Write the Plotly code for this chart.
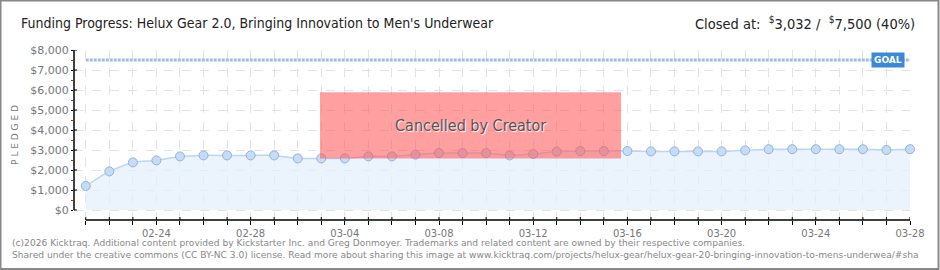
import plotly.graph_objects as go
import pandas as pd

# ---- data ----
dates = pd.date_range("2026-02-21", "2026-03-28", freq="D").strftime("%Y-%m-%d").tolist()
pledged = [1200, 1930, 2380, 2480, 2680, 2730, 2730, 2730, 2730, 2580,
           2580, 2580, 2680, 2680, 2770, 2850, 2850, 2850, 2730, 2800,
           2920, 2950, 2950, 2950, 2930, 2930, 2930, 2930, 2980, 3040,
           3040, 3040, 3040, 3040, 3000, 3040, 3032][:len(dates)]
goal = 7500
closed_at = 3032
pct = 40
label_every = 4
label_start = "2026-02-24"
title_text = "Funding Progress: Helux Gear 2.0, Bringing Innovation to Men's Underwear"
footer1 = ("(c)2026 Kicktraq. Additional content provided by Kickstarter Inc. and Greg Donmoyer. "
           "Trademarks and related content are owned by their respective companies.")
footer2 = ("Shared under the creative commons (CC BY-NC 3.0) license. Read more about sharing this image at "
           "www.kicktraq.com/projects/helux-gear/helux-gear-20-bringing-innovation-to-mens-underwea/#sha")
y_ticks = list(range(0, 8001, 1000))
y_minor = list(range(500, 8000, 1000))

# ---- figure ----
fig = go.Figure()

# goal line
fig.add_trace(go.Scatter(
    x=[dates[0], dates[-1]], y=[goal, goal], mode="lines",
    line=dict(color="#9dbde6", width=3, dash="3px,1px"),
    hoverinfo="skip", showlegend=False, cliponaxis=False))

# pledged area
fig.add_trace(go.Scatter(
    x=dates, y=pledged, mode="lines+markers",
    line=dict(color="#bcd6f2", width=1.5, shape="spline", smoothing=0.6),
    fill="tozeroy", fillcolor="rgba(228,239,251,0.75)",
    marker=dict(size=9, color="#c3dcf7", line=dict(color="#95b2d8", width=1)),
    showlegend=False, cliponaxis=False))

labels_start_idx = dates.index(label_start)
label_dates = dates[labels_start_idx::label_every]
label_text = [d[5:] for d in label_dates]

x_lo = (pd.Timestamp(dates[0]) - pd.Timedelta(hours=12)).strftime("%Y-%m-%d %H:%M")
x_hi = dates[-1]

fig.update_layout(
    width=940, height=270,
    margin=dict(l=74, r=30, t=50, b=50),
    paper_bgcolor="white", plot_bgcolor="white",
    showlegend=False,
    xaxis=dict(
        range=[x_lo, x_hi], tickmode="array", tickvals=label_dates, ticktext=label_text,
        showgrid=True, gridcolor="#e3e3e3", griddash="dash", gridwidth=1,
        showline=False, zeroline=False,
        ticks="outside", ticklen=4, tickcolor="black", tickwidth=1,
        minor=dict(tickmode="array", tickvals=dates, ticks="outside", ticklen=4,
                   tickcolor="black", showgrid=True, gridcolor="#e3e3e3", griddash="dash"),
        tickfont=dict(family="DejaVu Sans", size=10, color="#777"),
    ),
    yaxis=dict(
        range=[-500, 8000], tickmode="array", tickvals=y_ticks,
        ticktext=[f"${v:,}" for v in y_ticks],
        showgrid=True, gridcolor="#e3e3e3", griddash="dash", gridwidth=1,
        showline=False, zeroline=False,
        ticks="outside", ticklen=2, tickcolor="black", tickwidth=1,
        minor=dict(tickmode="array", tickvals=y_minor, ticks="outside", ticklen=2,
                   tickcolor="red", showgrid=False),
        tickfont=dict(family="DejaVu Sans", size=11, color="#777"),
        title=dict(text="P L E D G E D", font=dict(family="DejaVu Sans", size=9, color="#777"),
                   standoff=10),
    ),
)

shapes = []
# y axis line
shapes.append(dict(type="line", xref="paper", yref="y", x0=0, x1=0, y0=0, y1=8000,
                   line=dict(color="black", width=1.5)))
for v in y_ticks:
    shapes.append(dict(type="line", xref="paper", yref="y", x0=0, x1=3 / 836, y0=v, y1=v,
                       line=dict(color="black", width=1)))
# x axis line
shapes.append(dict(type="line", xref="x", yref="paper", x0=dates[0], x1=dates[-1], y0=0, y1=0,
                   line=dict(color="black", width=1.5)))
for d in dates:
    shapes.append(dict(type="line", xref="x", yref="paper", x0=d, x1=d, y0=0, y1=3 / 170,
                       line=dict(color="black", width=1)))
# cancelled box
shapes.append(dict(type="rect", xref="paper", yref="paper",
                   x0=(320 - 74) / 836, x1=(621 - 74) / 836,
                   y0=(220 - 158.5) / 170, y1=(220 - 92.3) / 170,
                   fillcolor="rgba(255,90,90,0.58)", line=dict(width=0), layer="above"))
# border
shapes.append(dict(type="rect", xref="paper", yref="paper",
                   x0=-74 / 836 + 0.5 / 836, x1=1 + 28.5 / 836,
                   y0=-49 / 170, y1=1 + 49.5 / 170,
                   line=dict(color="#888", width=2), fillcolor="rgba(0,0,0,0)"))
fig.update_layout(shapes=shapes)

hdr_font = "Liberation Sans Narrow, DejaVu Sans Condensed, sans-serif"
ann = []
ann.append(dict(text=title_text, xref="paper", yref="paper", x=-55 / 836, y=1 + 27 / 170,
                xanchor="left", yanchor="middle", showarrow=False,
                font=dict(family=hdr_font, size=14, color="#222")))
ann.append(dict(text=f"Closed at:  <sup>$</sup>{closed_at:,} /  <sup>$</sup>{goal:,} ({pct}%)",
                xref="paper", yref="paper", x=1 + 7 / 836, y=1 + 27 / 170,
                xanchor="right", yanchor="middle", showarrow=False,
                font=dict(family=hdr_font, size=14.5, color="#222")))
ann.append(dict(text="Cancelled by Creator", xref="paper", yref="paper",
                x=(470 - 74) / 836, y=(220 - 125) / 170, xanchor="center", yanchor="middle",
                showarrow=False,
                font=dict(family=hdr_font, size=16, color="#555", shadow="1px 1px 1px white")))
ann.append(dict(text="<b>GOAL</b>", xref="paper", yref="y", x=(888 - 74) / 836, y=goal,
                xanchor="center", yanchor="middle", showarrow=False,
                bgcolor="#3b89d9", borderpad=2,
                font=dict(family="DejaVu Sans", size=9, color="white")))
ann.append(dict(text=footer1, xref="paper", yref="paper", x=-64 / 836, y=-(243 - 220) / 170,
                xanchor="left", yanchor="middle", showarrow=False,
                font=dict(family="DejaVu Sans", size=9.1, color="#888")))
ann.append(dict(text=footer2, xref="paper", yref="paper", x=-64 / 836, y=-(255 - 220) / 170,
                xanchor="left", yanchor="middle", showarrow=False,
                font=dict(family="DejaVu Sans", size=9.1, color="#888")))
fig.update_layout(annotations=ann)

fig.write_html("out.html")
